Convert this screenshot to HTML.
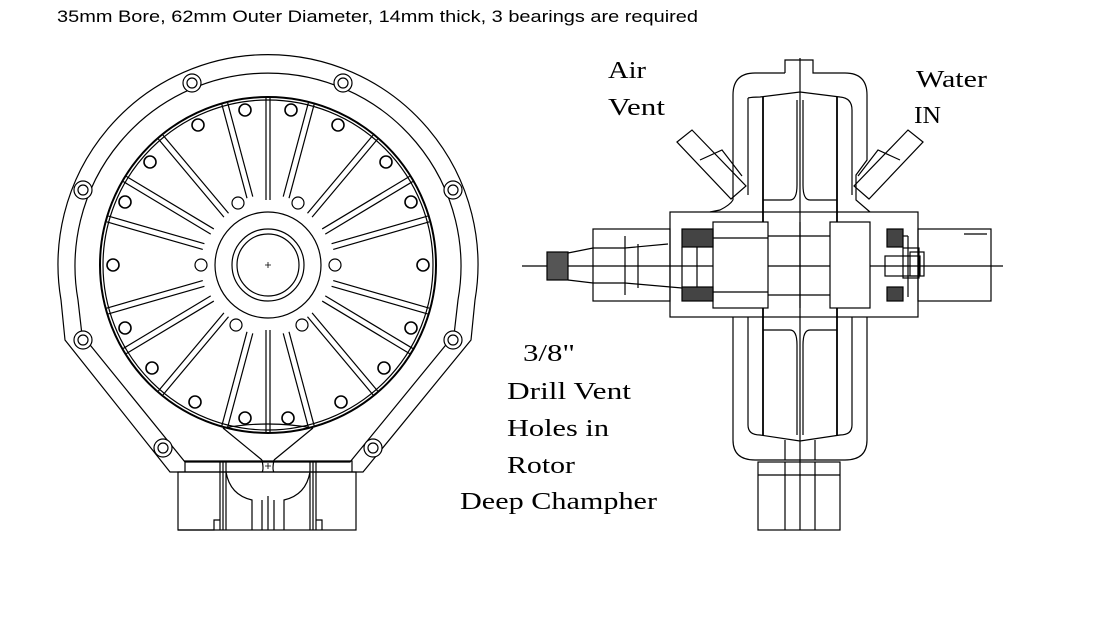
<!DOCTYPE html>
<html><head><meta charset="utf-8"><style>
html,body{margin:0;padding:0;background:#fff;}
svg{display:block}
</style></head><body>
<svg width="1113" height="634" viewBox="0 0 1113 634" xmlns="http://www.w3.org/2000/svg" fill="none" stroke="#000" stroke-width="1.2">
<text x="57" y="22" font-family="Liberation Sans, sans-serif" font-size="17" fill="#000" stroke="none" textLength="641" lengthAdjust="spacingAndGlyphs">35mm Bore, 62mm Outer Diameter, 14mm thick, 3 bearings are required</text>

<!-- LEFT VIEW -->
<g>
<!-- outer housing -->
<path d="M65,340 L61,300 A210,210 0 1 1 475,300 L471,340 L363,472 L170,472 Z"/>
<path d="M82,335 L78,300 A193,193 0 1 1 458,300 L454,335 L350,462 L185,462 Z"/>
<!-- rotor -->
<circle cx="268" cy="265" r="168" stroke-width="2"/>
<circle cx="268" cy="265" r="165"/>
<!-- grooves -->
<g id="grooves">
<g transform="rotate(0 268 265)"><line x1="266" y1="98" x2="266" y2="200"/><line x1="270" y1="98" x2="270" y2="200"/></g>
<g transform="rotate(15 268 265)"><line x1="265" y1="98" x2="265" y2="195"/><line x1="271" y1="98" x2="271" y2="195"/></g>
<g transform="rotate(-15 268 265)"><line x1="265" y1="98" x2="265" y2="195"/><line x1="271" y1="98" x2="271" y2="195"/></g>
<g transform="rotate(40 268 265)"><line x1="265" y1="98" x2="265" y2="200"/><line x1="271" y1="98" x2="271" y2="200"/></g>
<g transform="rotate(-40 268 265)"><line x1="265" y1="98" x2="265" y2="200"/><line x1="271" y1="98" x2="271" y2="200"/></g>
<g transform="rotate(59 268 265)"><line x1="265" y1="98" x2="265" y2="200"/><line x1="271" y1="98" x2="271" y2="200"/></g>
<g transform="rotate(-59 268 265)"><line x1="265" y1="98" x2="265" y2="200"/><line x1="271" y1="98" x2="271" y2="200"/></g>
<g transform="rotate(74 268 265)"><line x1="265" y1="98" x2="265" y2="198"/><line x1="271" y1="98" x2="271" y2="198"/></g>
<g transform="rotate(-74 268 265)"><line x1="265" y1="98" x2="265" y2="198"/><line x1="271" y1="98" x2="271" y2="198"/></g>
<g transform="rotate(106 268 265)"><line x1="265" y1="98" x2="265" y2="198"/><line x1="271" y1="98" x2="271" y2="198"/></g>
<g transform="rotate(-106 268 265)"><line x1="265" y1="98" x2="265" y2="198"/><line x1="271" y1="98" x2="271" y2="198"/></g>
<g transform="rotate(121 268 265)"><line x1="265" y1="98" x2="265" y2="200"/><line x1="271" y1="98" x2="271" y2="200"/></g>
<g transform="rotate(-121 268 265)"><line x1="265" y1="98" x2="265" y2="200"/><line x1="271" y1="98" x2="271" y2="200"/></g>
<g transform="rotate(140 268 265)"><line x1="265" y1="98" x2="265" y2="200"/><line x1="271" y1="98" x2="271" y2="200"/></g>
<g transform="rotate(-140 268 265)"><line x1="265" y1="98" x2="265" y2="200"/><line x1="271" y1="98" x2="271" y2="200"/></g>
<g transform="rotate(165 268 265)"><line x1="265" y1="98" x2="265" y2="195"/><line x1="271" y1="98" x2="271" y2="195"/></g>
<g transform="rotate(-165 268 265)"><line x1="265" y1="98" x2="265" y2="195"/><line x1="271" y1="98" x2="271" y2="195"/></g>
<g transform="rotate(180 268 265)"><line x1="266" y1="98" x2="266" y2="200"/><line x1="270" y1="98" x2="270" y2="200"/></g>
</g>
<!-- hub -->
<circle cx="268" cy="265" r="53" fill="#fff"/>
<circle cx="268" cy="265" r="36"/>
<circle cx="268" cy="265" r="31"/>
<path d="M265,265h6M268,262v6" stroke-width="0.8"/>
<!-- rotor holes -->
<g stroke-width="1.6" fill="#fff">
<circle cx="245" cy="110" r="6"/><circle cx="291" cy="110" r="6"/>
<circle cx="198" cy="125" r="6"/><circle cx="338" cy="125" r="6"/>
<circle cx="150" cy="162" r="6"/><circle cx="386" cy="162" r="6"/>
<circle cx="125" cy="202" r="6"/><circle cx="411" cy="202" r="6"/>
<circle cx="113" cy="265" r="6"/><circle cx="423" cy="265" r="6"/>
<circle cx="125" cy="328" r="6"/><circle cx="411" cy="328" r="6"/>
<circle cx="152" cy="368" r="6"/><circle cx="384" cy="368" r="6"/>
<circle cx="195" cy="402" r="6"/><circle cx="341" cy="402" r="6"/>
<circle cx="245" cy="418" r="6"/><circle cx="288" cy="418" r="6"/>
</g>
<g fill="#fff">
<circle cx="238" cy="203" r="6"/><circle cx="298" cy="203" r="6"/>
<circle cx="201" cy="265" r="6"/><circle cx="335" cy="265" r="6"/>
<circle cx="236" cy="325" r="6"/><circle cx="302" cy="325" r="6"/>
</g>
<!-- housing bolts -->
<g fill="#fff">
<circle cx="192" cy="83" r="9"/><circle cx="192" cy="83" r="5"/>
<circle cx="343" cy="83" r="9"/><circle cx="343" cy="83" r="5"/>
<circle cx="83" cy="190" r="9"/><circle cx="83" cy="190" r="5"/>
<circle cx="453" cy="190" r="9"/><circle cx="453" cy="190" r="5"/>
<circle cx="83" cy="340" r="9"/><circle cx="83" cy="340" r="5"/>
<circle cx="453" cy="340" r="9"/><circle cx="453" cy="340" r="5"/>
<circle cx="163" cy="448" r="9"/><circle cx="163" cy="448" r="5"/>
<circle cx="373" cy="448" r="9"/><circle cx="373" cy="448" r="5"/>
</g>
<!-- funnel -->
<path d="M223,428 L262,460 M313,428 L274,460"/>
<path d="M223,428 Q268,420 313,428"/>
<path d="M262,460 Q264,470 262,472 M274,460 Q272,470 274,472"/>
<!-- base -->
<rect x="178" y="472" width="178" height="58"/>
<path d="M185,472 V461 H352 V472"/>
<path d="M220,461V530 M223,461V530 M226,461V530 M310,461V530 M313,461V530 M316,461V530"/>
<path d="M226,472 Q230,495 252,500 V530 M310,472 Q306,495 284,500 V530"/>
<path d="M262,500V530 M274,500V530 M268,496V530"/>
<path d="M178,530 H214 V520 H220 M316,520 H322 V530"/>
<path d="M265,466h6M268,463v6" stroke-width="0.8"/>
</g>

<!-- RIGHT VIEW -->
<g>
<line x1="522" y1="266" x2="1003" y2="266"/>
<line x1="800" y1="58" x2="800" y2="530"/>
<!-- housing -->
<path d="M785,73 V60 H813 V73 H845 Q867,73 867,95 V160 L856,175 V200 L870,212 M733,200 V95 Q733,73 755,73 H785"/>
<path d="M748,98 Q752,97 760,97 L800,92 L840,97 Q852,98 852,110 V195 M748,98 V195"/>
<path d="M733,317 V440 Q733,460 755,460 H845 Q867,460 867,440 V317"/>
<path d="M748,317 V425 Q748,435 760,435 L800,441 L840,435 Q852,435 852,425 V317"/>
<line x1="763" y1="97" x2="763" y2="435" stroke-width="1.8"/>
<line x1="837" y1="97" x2="837" y2="435" stroke-width="1.8"/>
<path d="M763,200 H790 Q797,200 797,185 V100 M837,200 H810 Q803,200 803,185 V100"/>
<path d="M763,330 H790 Q797,330 797,345 V435 M837,330 H810 Q803,330 803,345 V435"/>
<line x1="785" y1="440" x2="785" y2="460"/><line x1="815" y1="440" x2="815" y2="460"/>
<!-- hub block -->
<rect x="670" y="212" width="248" height="105"/>
<rect x="593" y="229" width="77" height="72"/>
<rect x="918" y="229" width="73" height="72"/>
<line x1="964" y1="234" x2="987" y2="234"/>
<rect x="713" y="222" width="55" height="86" fill="#fff"/>
<rect x="830" y="222" width="40" height="86" fill="#fff"/>
<line x1="768" y1="236" x2="830" y2="236"/><line x1="768" y1="295" x2="830" y2="295"/>
<line x1="800" y1="222" x2="800" y2="308"/>
<line x1="713" y1="238" x2="768" y2="238"/><line x1="713" y1="292" x2="768" y2="292"/>
<!-- bearings -->
<rect x="682" y="229" width="31" height="18" fill="#444"/>
<rect x="682" y="287" width="31" height="14" fill="#444"/>
<rect x="887" y="229" width="16" height="18" fill="#444"/>
<rect x="887" y="287" width="16" height="14" fill="#444"/>
<line x1="697" y1="247" x2="697" y2="287"/>
<line x1="682" y1="247" x2="682" y2="287"/>
<!-- left shaft -->
<path d="M568,253 L593,248 H625 L668,244 M568,280 L593,283 H625 L682,288"/>
<line x1="625" y1="236" x2="625" y2="295"/><line x1="638" y1="244" x2="638" y2="288"/>
<rect x="547" y="252" width="21" height="28" fill="#555"/>
<!-- right bolt -->
<rect x="885" y="256" width="35" height="20"/>
<rect x="903" y="248" width="16" height="30"/>
<rect x="910" y="252" width="14" height="24"/>
<line x1="903" y1="236" x2="908" y2="236"/><line x1="908" y1="236" x2="908" y2="297"/>
<!-- vent pipes -->
<path d="M677,142 L692,130 L746,186 L731,199 Z"/>
<path d="M700,160 L722,150 L742,176" />
<path d="M923,142 L908,130 L854,186 L869,199 Z"/>
<path d="M900,160 L878,150 L858,176"/>
<path d="M733,200 Q730,205 720,210 L710,212"/>
<!-- bottom base -->
<rect x="758" y="462" width="82" height="68"/>
<line x1="785" y1="462" x2="785" y2="530"/><line x1="815" y1="462" x2="815" y2="530"/>
<line x1="758" y1="475" x2="840" y2="475"/>
</g>

<!-- labels -->
<g font-family="Liberation Serif, serif" font-size="24" fill="#000" stroke="none">
<text x="608" y="78" textLength="38" lengthAdjust="spacingAndGlyphs">Air</text>
<text x="608" y="115" textLength="57" lengthAdjust="spacingAndGlyphs">Vent</text>
<text x="916" y="87" textLength="71" lengthAdjust="spacingAndGlyphs">Water</text>
<text x="914" y="123" textLength="27" lengthAdjust="spacingAndGlyphs">IN</text>
<text x="523" y="361" textLength="52" lengthAdjust="spacingAndGlyphs">3/8"</text>
<text x="507" y="399" textLength="124" lengthAdjust="spacingAndGlyphs">Drill Vent</text>
<text x="507" y="436" textLength="102" lengthAdjust="spacingAndGlyphs">Holes in</text>
<text x="507" y="473" textLength="68" lengthAdjust="spacingAndGlyphs">Rotor</text>
<text x="460" y="509" textLength="197" lengthAdjust="spacingAndGlyphs">Deep Champher</text>
</g>
</svg>
</body></html>
